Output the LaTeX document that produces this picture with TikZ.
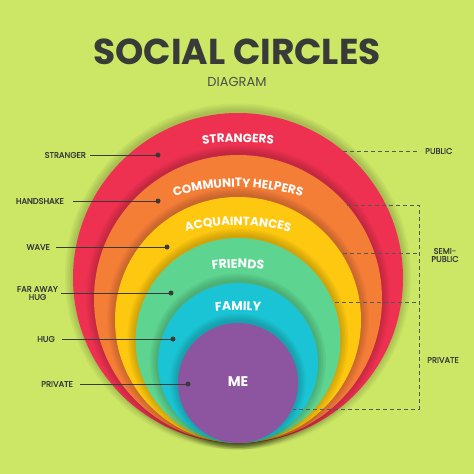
\documentclass[tikz,border=0pt]{standalone}
\usepackage{fontspec}
\setmainfont{Poppins}
\newfontfamily\medfont{Poppins}[FakeBold=0.9]
\usetikzlibrary{decorations.text}

\definecolor{lime}{HTML}{CCE766}
\definecolor{ink}{HTML}{383B38}
\definecolor{cRed}{HTML}{EE3150}
\definecolor{cOrange}{HTML}{F57E37}
\definecolor{cYellow}{HTML}{FDC80F}
\definecolor{cGreen}{HTML}{5DD48F}
\definecolor{cCyan}{HTML}{1BC4D4}
\definecolor{cPurple}{HTML}{8D55A0}

\tikzset{
  lbl/.style={text=ink, font=\medfont\fontsize{8.2}{9}\selectfont, align=center, inner sep=1pt},
  pin/.style={circle, fill=ink, inner sep=0pt, minimum size=5pt},
  lead/.style={draw=ink, line width=0.9pt},
  zone/.style={draw=ink!85, dash pattern=on 4pt off 3pt, line width=0.8pt},
  ringtext/.style 2 args={decorate, decoration={text along path, text align=center, text color=white,
    text={|\fontsize{#1}{#1}\selectfont\bfseries|#2}}},
}

\begin{document}
\begin{tikzpicture}[x=1pt, y=-1pt]
  \useasboundingbox (0,0) rectangle (474,474);
  \fill[lime] (0,0) rectangle (474,474);

  % title
  \node[text=ink, font=\fontsize{36}{36}\selectfont\bfseries] (title) at (237,52) {SOCIAL CIRCLES};
  \node[text=ink!90, font=\fontsize{13}{13}\selectfont] (subtitle) at (237,82) {DIAGRAM};

  % circles, outer to inner, each with a soft shadow
  \foreach \cy/\r/\c in {278/165/cRed, 299/144/cOrange, 320/123/cYellow, 340.5/102.5/cGreen, 363/80/cCyan, 383/60/cPurple} {
    \foreach \k in {1,...,5}
      \fill[black, opacity=0.035] (238,\cy-1.5) circle[radius=\r+1.6*\k];
    \fill[\c] (238,\cy) circle[radius=\r];
  }

  % ring names
  \path[ringtext={12}{STRANGERS}] (238,412) ++(240:270) arc[start angle=240, end angle=300, radius=270];
  \path[ringtext={12}{COMMUNITY HELPERS}] (238,397) ++(225:210) arc[start angle=225, end angle=315, radius=210];
  \path[ringtext={12}{ACQUAINTANCES}] (238,425) ++(225:200) arc[start angle=225, end angle=315, radius=200];
  \path[ringtext={12.5}{FRIENDS}] (238,448) ++(230:180) arc[start angle=230, end angle=310, radius=180];
  \path[ringtext={12.5}{FAMILY}] (238,560) ++(240:250) arc[start angle=240, end angle=300, radius=250];
  \node[text=white, font=\fontsize{14}{14}\selectfont\bfseries] (me) at (238,382) {ME};

  % left labels
  \node[lbl, anchor=east] (stranger) at (87,155) {STRANGER};
  \node[lbl, anchor=east] (handshake) at (65,201) {HANDSHAKE};
  \node[lbl, anchor=east] (wave) at (51,247) {WAVE};
  \node[lbl, anchor=east] (faraway) at (59,293) {FAR AWAY\\[-1pt]HUG};
  \node[lbl, anchor=east] (hug) at (56,339) {HUG};
  \node[lbl, anchor=east] (private) at (74,384) {PRIVATE};

  \node[pin] (d1) at (158,155) {};
  \node[pin] (d2) at (158,201) {};
  \node[pin] (d3) at (167,247) {};
  \node[pin] (d4) at (171,293) {};
  \node[pin] (d5) at (173,339) {};
  \node[pin] (d6) at (188,384) {};

  \draw[lead] ([xshift=3pt]stranger.east) -- (d1.center);
  \draw[lead] ([xshift=8pt]handshake.east) -- (d2.center);
  \draw[lead] ([xshift=5pt]wave.east) -- (d3.center);
  \draw[lead] ([xshift=2pt]faraway.east) -- (d4.center);
  \draw[lead] ([xshift=6pt]hug.east) -- (d5.center);
  \draw[lead] ([xshift=6pt]private.east) -- (d6.center);

  % right side zones
  \coordinate (s0) at (343,151);
  \coordinate (s1) at (347,205);
  \coordinate (s2) at (343,253);
  \coordinate (s3) at (335,302);
  \coordinate (s4) at (293,409);
  \coordinate (c1) at (419,205);
  \coordinate (c2) at (419,253);
  \coordinate (c3) at (419,302);
  \coordinate (c4) at (419,409);
  \node[lbl, anchor=west] (public) at (424,151) {PUBLIC};
  \node[lbl] (semi) at (445,255) {SEMI-\\[-1pt]PUBLIC};
  \node[lbl] (priv) at (443,360) {PRIVATE};

  \draw[zone] (s0) -- ([xshift=-4pt]public.west);
  \draw[zone] (s1) -- (c1) -- (c4) -- (s4);
  \draw[zone] (s2) -- (c2);
  \draw[zone] (s3) -- (c3);
\end{tikzpicture}
\end{document}
